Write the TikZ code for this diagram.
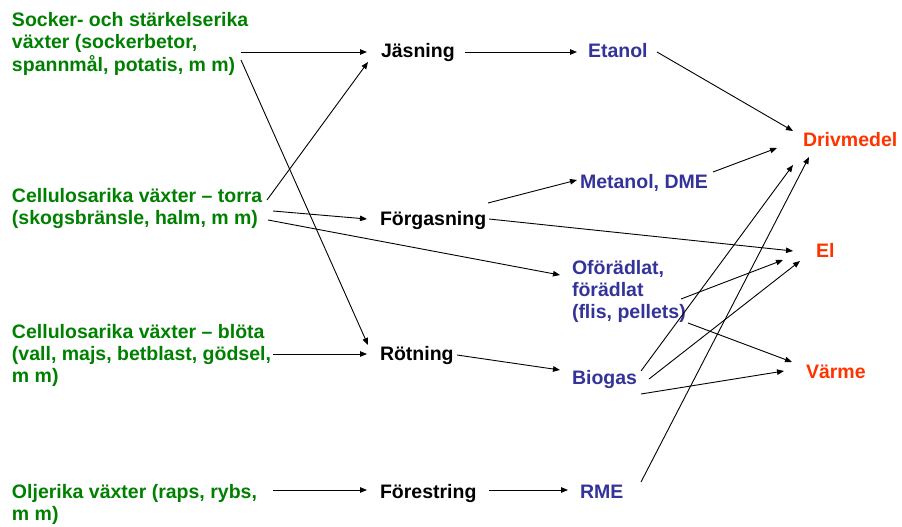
\documentclass[tikz,border=0pt]{standalone}
\usepackage{fontspec}
\setmainfont{Liberation Sans}
\usetikzlibrary{arrows.meta}
\definecolor{srcgreen}{RGB}{0,128,0}
\definecolor{prodblue}{RGB}{51,51,153}
\definecolor{usered}{RGB}{255,51,0}
\tikzset{
  lbl/.style={anchor=base west, inner sep=0pt, outer sep=0pt,
    font=\bfseries\fontsize{19.5}{22}\selectfont},
  src/.style={lbl, text=srcgreen},
  proc/.style={lbl, text=black},
  prod/.style={lbl, text=prodblue},
  use/.style={lbl, text=usered},
  conn/.style={line width=0.9pt, -{Triangle[length=7pt,width=5.5pt]}},
}
\newcommand{\ml}[1]{\begin{tabular}[t]{@{}l@{}}#1\end{tabular}}
\begin{document}
\begin{tikzpicture}[x=1pt,y=-1pt]
\useasboundingbox (0,0) rectangle (902,527);
% sources
\node[src] (src1) at (12,27) {\ml{Socker- och stärkelserika\\växter (sockerbetor,\\spannmål, potatis, m m)}};
\node[src] (src2) at (12,202) {\ml{Cellulosarika växter – torra\\(skogsbränsle, halm, m m)}};
\node[src] (src3) at (12,338) {\ml{Cellulosarika växter – blöta\\(vall, majs, betblast, gödsel,\\m m)}};
\node[src] (src4) at (12,498) {\ml{Oljerika växter (raps, rybs,\\m m)}};
% processes
\node[proc] (jas) at (381,58) {Jäsning};
\node[proc] (forg) at (380,225) {Förgasning};
\node[proc] (rot) at (380,360) {Rötning};
\node[proc] (fore) at (380,498) {Förestring};
% products
\node[prod] (eta) at (588,58) {Etanol};
\node[prod] (met) at (580,188) {Metanol, DME};
\node[prod] (ofo) at (572,274) {\ml{Oförädlat,\\förädlat\\(flis, pellets)}};
\node[prod] (bio) at (572,384) {Biogas};
\node[prod] (rme) at (580,498) {RME};
% uses
\node[use] (driv) at (803,146) {Drivmedel};
\node[use] (el) at (816,257) {El};
\node[use] (varme) at (806,378) {Värme};
% connectors
\draw[conn] ([shift={(229,25)}]src1.base west) -- ([shift={(-14,-6)}]jas.base west);
\draw[conn] ([shift={(229,33)}]src1.base west) -- ([shift={(-12,-15)}]rot.base west);
\draw[conn] ([shift={(255,-2)}]src2.base west) -- ([shift={(-13,4)}]jas.base west);
\draw[conn] ([shift={(261,9)}]src2.base west) -- ([shift={(-13,-6)}]forg.base west);
\draw[conn] ([shift={(256,18)}]src2.base west) -- ([shift={(-12,1)}]ofo.base west);
\draw[conn] ([shift={(261,16)}]src3.base west) -- ([shift={(-13,-6)}]rot.base west);
\draw[conn] ([shift={(261,-8)}]src4.base west) -- ([shift={(-13,-8)}]fore.base west);
\draw[conn] ([shift={(84,-6)}]jas.base west) -- ([shift={(-11,-6)}]eta.base west);
\draw[conn] ([shift={(108,-22)}]forg.base west) -- ([shift={(-3,-8)}]met.base west);
\draw[conn] ([shift={(109,-6)}]forg.base west) -- ([shift={(-23,-6)}]el.base west);
\draw[conn] ([shift={(77,-5)}]rot.base west) -- ([shift={(-12,-14)}]bio.base west);
\draw[conn] ([shift={(109,-8)}]fore.base west) -- ([shift={(-12,-8)}]rme.base west);
\draw[conn] ([shift={(69,-6)}]eta.base west) -- ([shift={(-10,-15)}]driv.base west);
\draw[conn] ([shift={(133,-16)}]met.base west) -- ([shift={(-26,2)}]driv.base west);
\draw[conn] ([shift={(69,-13)}]bio.base west) -- ([shift={(-10,19)}]driv.base west);
\draw[conn] ([shift={(61,-16)}]rme.base west) -- ([shift={(6,11)}]driv.base west);
\draw[conn] ([shift={(109,25)}]ofo.base west) -- ([shift={(-33,3)}]el.base west);
\draw[conn] ([shift={(77,-5)}]bio.base west) -- ([shift={(-16,4)}]el.base west);
\draw[conn] ([shift={(116,49)}]ofo.base west) -- ([shift={(-14,-16)}]varme.base west);
\draw[conn] ([shift={(69,10)}]bio.base west) -- ([shift={(-22,-7)}]varme.base west);
\end{tikzpicture}
\end{document}
